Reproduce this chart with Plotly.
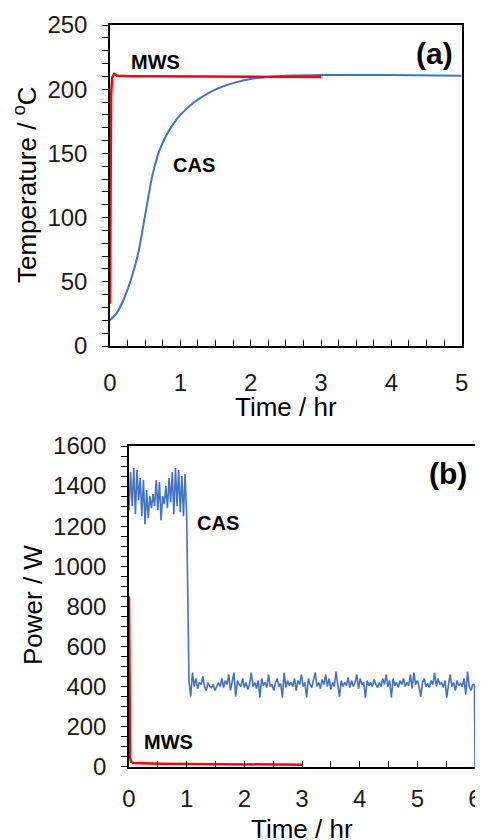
import plotly.graph_objects as go
import numpy as np

# ---------------- data: panel (a) temperature ----------------
mws_temp_t = [0, 0.005, 0.015, 0.03, 0.06, 0.1, 0.3, 0.6, 1.0, 1.5, 2.0, 2.5, 3.0]
mws_temp_v = [33, 120, 195, 209, 212, 210.5, 210, 210, 210, 210, 210, 210, 209.5]

cas_temp_t = [0, 0.1, 0.2, 0.3, 0.4, 0.5, 0.6, 0.7, 0.8, 0.9, 1.0, 1.2, 1.4, 1.6,
              1.8, 2.0, 2.25, 2.5, 3.0, 4.0, 5.0]
cas_temp_v = [20, 26, 37, 52, 72, 102, 132, 152, 164, 173, 180, 190, 197, 202,
              205.5, 208, 209.5, 210.5, 211, 211, 210.5]

# ---------------- data: panel (b) power ----------------
mws_pow_t = [0, 0.01, 0.02, 0.035, 0.06, 0.1, 0.2, 0.5, 1.0, 1.5, 2.0, 2.5, 3.0]
mws_pow_v = [850, 200, 45, 25, 20, 18, 17, 15, 14, 13, 12, 11, 10]

# CAS power, first hour (sampled every 1/36 h)
cas_pow_high = [1280, 1470, 1300, 1490, 1260, 1480, 1330, 1440, 1250, 1430,
                1210, 1380, 1240, 1350, 1290, 1360, 1300, 1430, 1280, 1420,
                1230, 1350, 1310, 1400, 1290, 1440, 1320, 1470, 1260, 1490,
                1300, 1480, 1270, 1450, 1250, 1460, 1250]
# CAS power, from 1.04 h to 5.96 h (sampled every 0.03 h)
cas_pow_low = [
    430, 350, 470, 400, 440, 390, 420, 410, 450, 400, 380, 420, 400, 395, 410,
    380, 405, 420, 400, 440, 395, 430, 410, 460, 380, 420, 470, 350, 430, 410,
    400, 440, 395, 420, 385, 410, 470, 400, 420, 390, 430, 345, 440, 405, 420,
    395, 460, 400, 410, 380, 420, 440, 400, 415, 345, 470, 395, 430, 405, 420,
    400, 440, 380, 430, 410, 460, 400, 420, 345, 440, 410, 395, 430, 470, 400,
    420, 390, 435, 410, 460, 400, 440, 385, 420, 400, 475, 410, 350, 430, 400,
    420, 405, 445, 395, 430, 400, 420, 460, 390, 440, 410, 420, 345, 430, 405,
    420, 400, 435, 410, 395, 420, 400, 440, 410, 460, 400, 430, 345, 440, 405,
    420, 395, 430, 410, 440, 400, 420, 405, 460, 390, 470, 410, 430, 400, 350,
    420, 440, 400, 415, 395, 430, 410, 470, 400, 440, 410, 420, 395, 430, 345,
    410, 460, 400, 420, 380, 430, 405, 415, 400, 440, 360, 475, 400, 380, 410,
]
cas_pow_end_t = [5.99, 6.0]
cas_pow_end_v = [410, 0]

cas_pow_t = (list(np.round(np.arange(len(cas_pow_high)) / 36.0, 4))
             + list(np.round(1.04 + 0.03 * np.arange(len(cas_pow_low)), 4))
             + cas_pow_end_t)
cas_pow_v = cas_pow_high + cas_pow_low + cas_pow_end_v

BLUE = "#4472C4"
RED = "#FF0000"
FONT = "Liberation Sans, Arial, sans-serif"
TXT = "#1a1a1a"

W, H = 483, 840
OFF = 8  # page body margin

fig = go.Figure()
fig.add_trace(go.Scatter(x=cas_temp_t, y=cas_temp_v, mode="lines",
                         line=dict(color=BLUE, width=2, shape="spline", smoothing=0.8),
                         xaxis="x", yaxis="y", showlegend=False))
fig.add_trace(go.Scatter(x=mws_temp_t, y=mws_temp_v, mode="lines",
                         line=dict(color=RED, width=2.5),
                         xaxis="x", yaxis="y", showlegend=False))
fig.add_trace(go.Scatter(x=cas_pow_t, y=cas_pow_v, mode="lines",
                         line=dict(color=BLUE, width=1.6),
                         xaxis="x2", yaxis="y2", showlegend=False))
fig.add_trace(go.Scatter(x=mws_pow_t, y=mws_pow_v, mode="lines",
                         line=dict(color=RED, width=2.5),
                         xaxis="x2", yaxis="y2", showlegend=False))

axis_common = dict(showline=True, linecolor="black", linewidth=1.5, mirror=True,
                   showgrid=False, zeroline=False, ticklen=6, tickwidth=1.3,
                   tickcolor="black", automargin=False,
                   tickfont=dict(family=FONT, size=24, color=TXT))

def px_x(a, b):
    return [(a - OFF) / W, (b - OFF) / W]

def px_y(top, bottom):
    return [1 - (bottom - OFF) / H, 1 - (top - OFF) / H]

def pp_x(a):
    return (a - OFF) / W

def pp_y(a):
    return 1 - (a - OFF) / H

fig.update_layout(
    template="none",
    width=W, height=H,
    margin=dict(l=0, r=0, t=0, b=0, pad=0),
    paper_bgcolor="white", plot_bgcolor="white",
    xaxis=dict(domain=px_x(110, 461.7), range=[0, 5], anchor="y",
               dtick=1, ticks="inside", ticklabelstandoff=14,
               minor=dict(dtick=0.25, ticks="inside", ticklen=6, tickwidth=1.3,
                          tickcolor="black"),
               **axis_common),
    yaxis=dict(domain=px_y(25, 346), range=[0, 250], anchor="x",
               dtick=50, ticks="outside", ticklabelstandoff=10,
               minor=dict(dtick=10, ticks="outside", ticklen=6, tickwidth=1.3,
                          tickcolor="black"),
               **axis_common),
    xaxis2=dict(domain=px_x(129, 475), range=[0, 6], anchor="y2",
                dtick=1, ticks="inside", ticklabelstandoff=10,
                minor=dict(dtick=0.5, ticks="inside", ticklen=6, tickwidth=1.3,
                           tickcolor="black"),
                **axis_common),
    yaxis2=dict(domain=px_y(446, 766.7), range=[0, 1600], anchor="x2",
                dtick=200, ticks="outside", ticklabelstandoff=10,
                minor=dict(dtick=50, ticks="outside", ticklen=6, tickwidth=1.3,
                           tickcolor="black"),
                **axis_common),
)

def lab(text, x, y, xref, yref, size=20, bold=True, angle=0):
    fig.add_annotation(text=f"<b>{text}</b>" if bold else text, x=x, y=y,
                       xref=xref, yref=yref, showarrow=False, textangle=angle,
                       font=dict(family=FONT, size=size, color="black"),
                       xanchor="center", yanchor="middle")

# in-plot labels (data coordinates)
lab("MWS", 0.64, 221, "x", "y")
lab("CAS", 1.20, 141, "x", "y")
lab("(a)", 4.62, 228, "x", "y", size=30)
lab("(b)", 5.54, 1464, "x2", "y2", size=30)
lab("CAS", 1.55, 1218, "x2", "y2")
lab("MWS", 0.68, 125, "x2", "y2")

# axis titles
lab("Time / hr", pp_x(285.8), pp_y(407), "paper", "paper", size=26, bold=False)
lab("Temperature / <sup>o</sup>C", pp_x(25), pp_y(185), "paper", "paper", size=26,
    bold=False, angle=-90)
lab("Time / hr", pp_x(302), pp_y(829), "paper", "paper", size=26, bold=False)
lab("Power / W", pp_x(33), pp_y(605), "paper", "paper", size=26, bold=False,
    angle=-90)

fig.write_html("out.html")
